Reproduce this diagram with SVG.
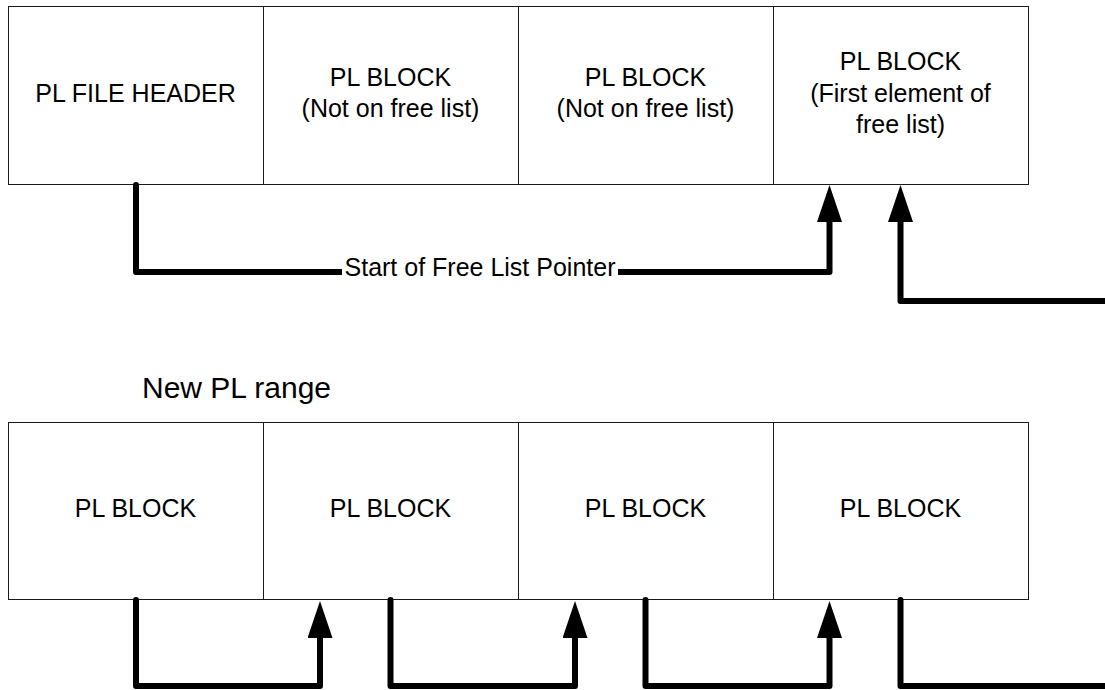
<svg xmlns="http://www.w3.org/2000/svg" width="1105" height="690" viewBox="0 0 1105 690">
  <style>
    .box { fill: #ffffff; stroke: #1a1a1a; stroke-width: 1; }
    .lbl { font-family: "Liberation Sans", Arial, sans-serif; font-size: 25px; fill: #000000; text-anchor: middle; }
    .title { font-family: "Liberation Sans", Arial, sans-serif; font-size: 30px; fill: #000000; }
    .wire { fill: none; stroke: #000000; stroke-width: 6; stroke-linecap: round; stroke-linejoin: round; }
  </style>
  <defs>
    <marker id="head" markerUnits="userSpaceOnUse" viewBox="0 0 37 25" markerWidth="37" markerHeight="25" refX="0" refY="12.5" orient="auto">
      <path d="M0,0 L37,12.5 L0,25 Z" fill="#000000"/>
    </marker>
  </defs>
  <rect width="1105" height="690" fill="#ffffff"/>

  <!-- upper row: header followed by three blocks -->
  <g id="file-header">
    <rect class="box" x="8.5" y="6.5" width="255" height="178"/>
    <text class="lbl" x="135.5" y="102">PL FILE HEADER</text>
  </g>
  <g id="block-a">
    <rect class="box" x="263.5" y="6.5" width="255" height="178"/>
    <text class="lbl" x="390.5" y="86">PL BLOCK</text>
    <text class="lbl" x="390.5" y="117">(Not on free list)</text>
  </g>
  <g id="block-b">
    <rect class="box" x="518.5" y="6.5" width="255" height="178"/>
    <text class="lbl" x="645.5" y="86">PL BLOCK</text>
    <text class="lbl" x="645.5" y="117">(Not on free list)</text>
  </g>
  <g id="block-first-free">
    <rect class="box" x="773.5" y="6.5" width="255" height="178"/>
    <text class="lbl" x="900.5" y="70">PL BLOCK</text>
    <text class="lbl" x="900.5" y="101.5">(First element of</text>
    <text class="lbl" x="900.5" y="133">free list)</text>
  </g>

  <!-- heading for the lower row -->
  <g id="range-title">
    <text class="title" x="142" y="398">New PL range</text>
  </g>

  <!-- lower row: four blocks of the new range -->
  <g id="range-block-1">
    <rect class="box" x="8.5" y="422.5" width="255" height="177"/>
    <text class="lbl" x="135.5" y="517">PL BLOCK</text>
  </g>
  <g id="range-block-2">
    <rect class="box" x="263.5" y="422.5" width="255" height="177"/>
    <text class="lbl" x="390.5" y="517">PL BLOCK</text>
  </g>
  <g id="range-block-3">
    <rect class="box" x="518.5" y="422.5" width="255" height="177"/>
    <text class="lbl" x="645.5" y="517">PL BLOCK</text>
  </g>
  <g id="range-block-4">
    <rect class="box" x="773.5" y="422.5" width="255" height="177"/>
    <text class="lbl" x="900.5" y="517">PL BLOCK</text>
  </g>

  <!-- pointers between blocks -->
  <g id="connectors">
    <path class="wire" d="M136,185 V272 H829.5 V222" marker-end="url(#head)"/>
    <rect x="342" y="262" width="276" height="20" fill="#ffffff"/>
    <text class="lbl" x="480" y="275.5">Start of Free List Pointer</text>

    <path class="wire" d="M1110,301 H900.5 V222" marker-end="url(#head)"/>

    <path class="wire" d="M136,600 V686 H320 V638" marker-end="url(#head)"/>
    <path class="wire" d="M390.5,600 V686 H575 V638" marker-end="url(#head)"/>
    <path class="wire" d="M645.5,600 V686 H829.5 V638" marker-end="url(#head)"/>
    <path class="wire" d="M900.5,600 V686 H1110"/>
  </g>
</svg>
